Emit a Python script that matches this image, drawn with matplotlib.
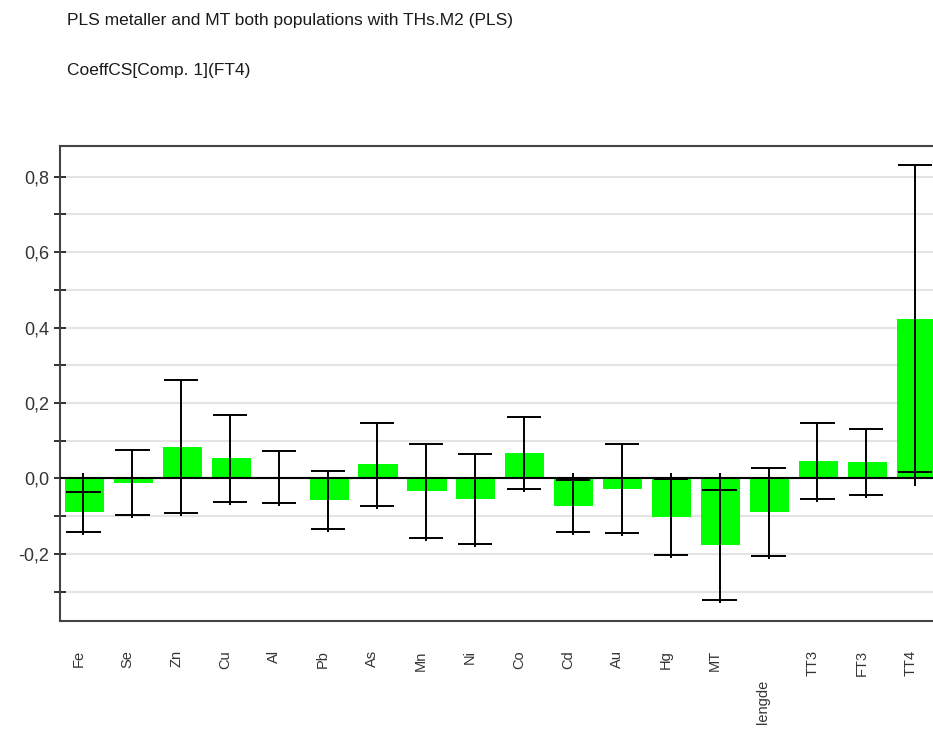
import numpy as np
import matplotlib
matplotlib.use('Agg')
import matplotlib.pyplot as plt
from matplotlib.transforms import ScaledTranslation

# Variables in the model and their PLS coefficients (component 1) for FT4,
# with the half width of the confidence interval.
variables = ['Fe', 'Se', 'Zn', 'Cu', 'Al', 'Pb', 'As', 'Mn', 'Ni', 'Co',
             'Cd', 'Au', 'Hg', 'MT', 'lengde', 'TT3', 'FT3', 'TT4']
coeffs = [-0.089, -0.011, 0.084, 0.053, 0.004, -0.057, 0.037, -0.034,
          -0.054, 0.067, -0.073, -0.027, -0.103, -0.176, -0.088, 0.046,
          0.044, 0.424]
conf_int = [0.054, 0.086, 0.176, 0.115, 0.068, 0.076, 0.110, 0.125,
            0.120, 0.095, 0.070, 0.117, 0.101, 0.145, 0.117, 0.100,
            0.088, 0.406]

title_lines = ['PLS metaller and MT both populations with THs.M2 (PLS)',
               'CoeffCS[Comp. 1](FT4)']

plt.rcParams['font.family'] = ['Liberation Sans', 'DejaVu Sans']

fig = plt.figure(figsize=(9.33, 7.38), dpi=100)
ax = fig.add_axes([0.0643, 0.1585, 0.944, 0.644])

x = np.arange(len(variables))
coeffs = np.array(coeffs)
conf_int = np.array(conf_int)
lo = coeffs - conf_int
hi = coeffs + conf_int

# Horizontal grid every 0.1 and the zero line
for g in np.arange(-3, 9) / 10:
    ax.axhline(g, color='#e4e4e4', lw=1.5, zorder=0)
ax.axhline(0, color='black', lw=1.5, zorder=3)

ax.bar(x, coeffs, width=0.8, color='#00ff00', zorder=2)

# Confidence intervals: vertical line always reaches past the zero line
ax.vlines(x - 0.02, np.minimum(lo - 0.008, -0.02), np.maximum(hi, 0.014),
          color='black', lw=1.4, zorder=4)
ax.hlines(lo, x - 0.37, x + 0.33, color='black', lw=1.4, zorder=4)
ax.hlines(hi, x - 0.37, x + 0.33, color='black', lw=1.4, zorder=4)

ax.set_xlim(-0.5, len(variables) - 0.5)
ax.set_ylim(-0.378, 0.882)

ax.set_yticks(np.arange(-2, 9, 2) / 10)
ax.set_yticks(np.arange(-3, 9) / 10, minor=True)
ax.set_yticklabels(['{:.1f}'.format(v).replace('.', ',')
                    for v in np.arange(-2, 9, 2) / 10])
ax.tick_params(axis='y', which='both', direction='inout', length=9,
               width=1.3, color='#222222', labelsize=13,
               labelcolor='#333333', pad=3)

ax.set_xticks(x)
ax.set_xticklabels(variables, rotation=90, va='top', ha='center',
                   fontsize=10.5, color='#333333')
ax.tick_params(axis='x', length=0, pad=21)

# Nudge the rotated labels a little left; the length variable sits lower
for lab in ax.get_xticklabels():
    dy = -30 / 100 if lab.get_text() == 'lengde' else 0
    lab.set_transform(lab.get_transform() +
                      ScaledTranslation(-6 / 100, dy, fig.dpi_scale_trans))

for side in ['left', 'right', 'top', 'bottom']:
    ax.spines[side].set_color('#444444')
    ax.spines[side].set_linewidth(1.5)

fig.text(67 / 933, 1 - 20 / 738, title_lines[0], fontsize=12.5,
         color='#1a1a1a', va='center', ha='left')
fig.text(67 / 933, 1 - 70 / 738, title_lines[1], fontsize=12.5,
         color='#1a1a1a', va='center', ha='left')

fig.savefig('out.png', dpi=100)
